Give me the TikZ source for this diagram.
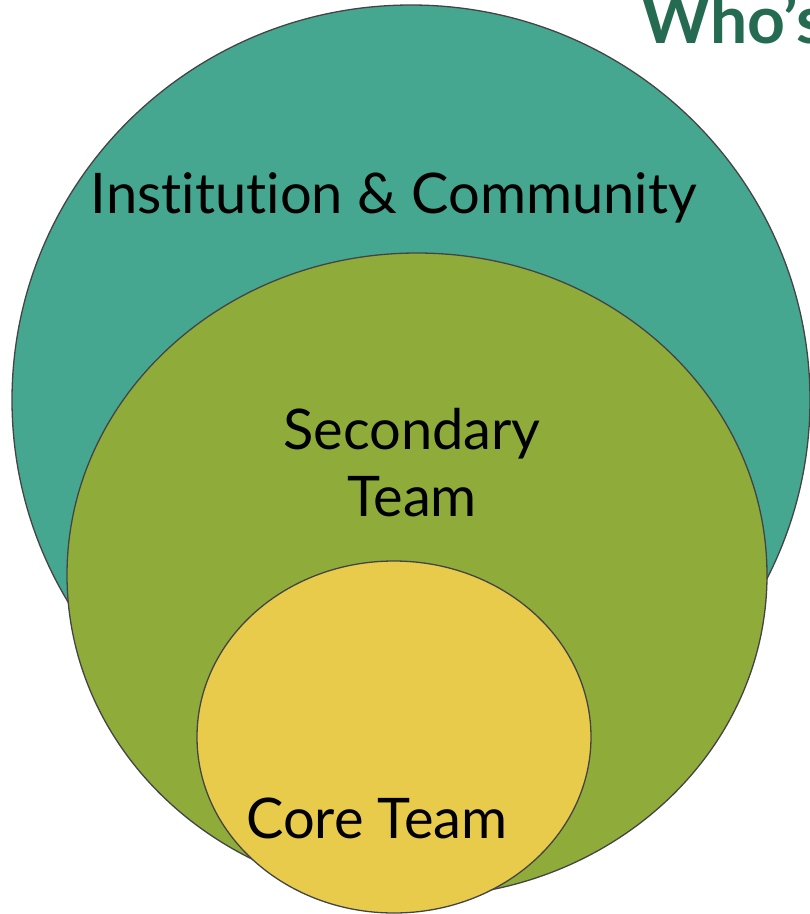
\documentclass[tikz,border=0pt]{standalone}
\usepackage{fontspec}
\setmainfont{Lato}[Ligatures={NoCommon}]
\definecolor{teal1}{HTML}{45A78F}
\definecolor{green1}{HTML}{8FAC3A}
\definecolor{yellow1}{HTML}{E8CB4B}
\definecolor{edge1}{HTML}{444444}
\definecolor{title1}{HTML}{256B52}
\begin{document}
\begin{tikzpicture}[x=1pt,y=-1pt,
  blob/.style={draw=edge1,line width=1.3pt},
  lbl/.style={font=\fontsize{56}{67}\selectfont,text=black,align=center,inner sep=0pt}]
\useasboundingbox (0,0) rectangle (810,914);
\fill[white] (0,0) rectangle (810,914);
\node[anchor=base west,inner sep=0pt,text=title1,font=\fontsize{66}{70}\selectfont\bfseries] (title) at (641,43) {Who’s};
\draw[blob,fill=teal1] (411,400) ellipse [x radius=399,y radius=395];
\draw[blob,fill=green1] (417,575) ellipse [x radius=350,y radius=322];
\draw[blob,fill=yellow1] (394,737) ellipse [x radius=197,y radius=176];
\node[lbl] (inst) at (394,198) {Institution \& Community};
\node[lbl] (sec) at (412,463) {Secondary\\Team};
\node[lbl] (core) at (377,818) {Core Team};
\end{tikzpicture}
\end{document}
